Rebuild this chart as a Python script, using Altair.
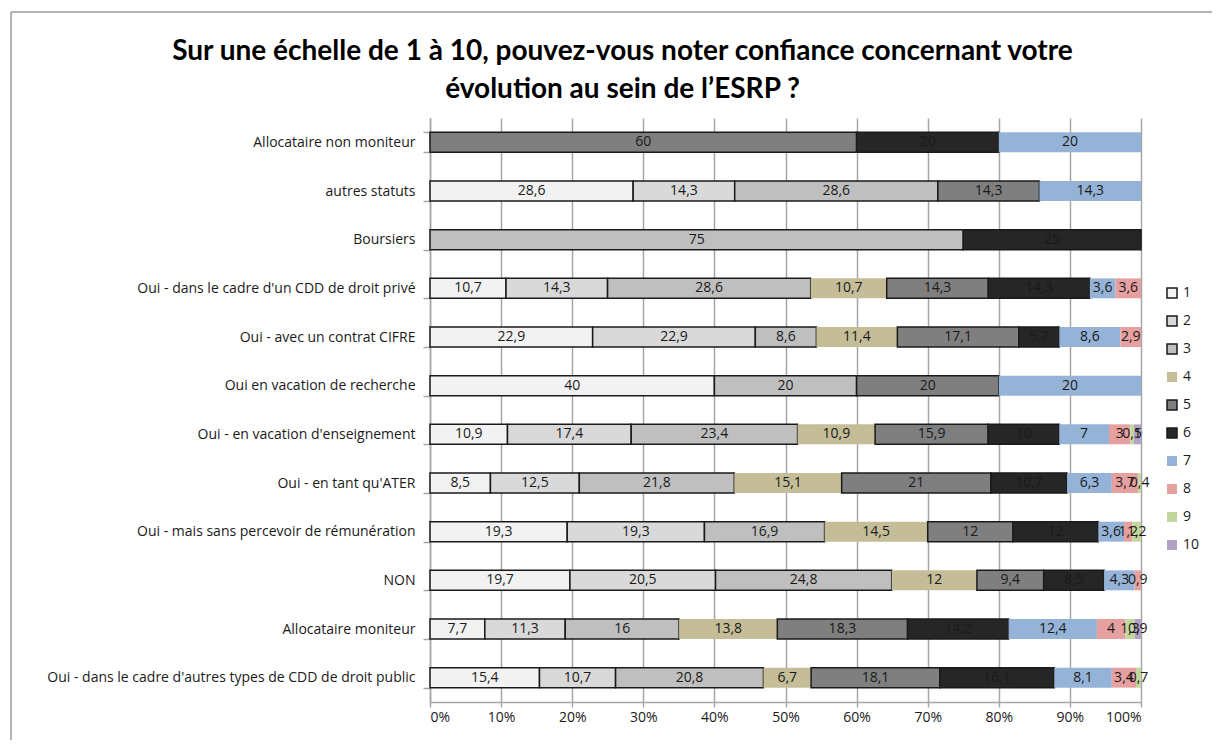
import altair as alt
import pandas as pd

categories = [
    "Allocataire non moniteur",
    "autres statuts",
    "Boursiers",
    "Oui - dans le cadre d'un CDD de droit privé",
    "Oui - avec un contrat CIFRE",
    "Oui en vacation de recherche",
    "Oui - en vacation d'enseignement",
    "Oui - en tant qu'ATER",
    "Oui - mais sans percevoir de rémunération",
    "NON",
    "Allocataire moniteur",
    "Oui - dans le cadre d'autres types de CDD de droit public",
]
levels = ["1", "2", "3", "4", "5", "6", "7", "8", "9", "10"]

L1 = [0, 28.6, 0, 10.7, 22.9, 40, 10.9, 8.5, 19.3, 19.7, 7.7, 15.4]
L2 = [0, 14.3, 0, 14.3, 22.9, 0, 17.4, 12.5, 19.3, 20.5, 11.3, 10.7]
L3 = [0, 28.6, 75, 28.6, 8.6, 20, 23.4, 21.8, 16.9, 24.8, 16, 20.8]
L4 = [0, 0, 0, 10.7, 11.4, 0, 10.9, 15.1, 14.5, 12, 13.8, 6.7]
L5 = [60, 14.3, 0, 14.3, 17.1, 20, 15.9, 21, 12, 9.4, 18.3, 18.1]
L6 = [20, 0, 25, 14.3, 5.7, 0, 10, 10.7, 12, 8.5, 14.2, 16.1]
L7 = [20, 14.3, 0, 3.6, 8.6, 20, 7, 6.3, 3.6, 4.3, 12.4, 8.1]
L8 = [0, 0, 0, 3.6, 2.9, 0, 3, 3.7, 1.2, 0.9, 4, 3.4]
L9 = [0, 0, 0, 0, 0, 0, 0.5, 0.4, 1.2, 0, 1.3, 0.7]
L10 = [0, 0, 0, 0, 0, 0, 1, 0, 0, 0, 0.9, 0]

x_ticks = [0, 0.1, 0.2, 0.3, 0.4, 0.5, 0.6, 0.7, 0.8, 0.9, 1.0]

fills = ["#f2f2f2", "#d9d9d9", "#bfbfbf", "#c4bd97", "#7f7f7f",
         "#262626", "#95b3d7", "#e6a0a0", "#c3d69b", "#b3a2c7"]
strokes = ["#1a1a1a", "#1a1a1a", "#1a1a1a", "transparent", "#1a1a1a",
           "#1a1a1a", "transparent", "transparent", "transparent", "transparent"]

FONT = "Open Sans"
TITLE_FONT = "Lato"


def fmt(v):
    if float(v).is_integer():
        return str(int(v))
    return str(v).replace(".", ",")


rows = []
for lvl, vals in zip(levels, [L1, L2, L3, L4, L5, L6, L7, L8, L9, L10]):
    for c, v in zip(categories, vals):
        if v > 0:
            rows.append({"cat": c, "level": lvl, "order": int(lvl),
                         "value": v, "label": fmt(v)})
df = pd.DataFrame(rows)

base = alt.Chart(df).transform_stack(
    stack="value", groupby=["cat"], as_=["x0", "x1"], offset="normalize",
    sort=[alt.SortField("order", order="ascending")]
).transform_calculate(xm="(datum.x0 + datum.x1) / 2")

yscale = alt.Scale(paddingInner=0.59, paddingOuter=0.295)

bars = base.mark_bar(strokeWidth=1.5).encode(
    x=alt.X("x0:Q", scale=alt.Scale(domain=[0, 1], nice=False),
            axis=alt.Axis(format=".0%", values=x_ticks, title=None,
                          grid=True, gridColor="#a6a6a6", gridWidth=1.5,
                          domainColor="#a6a6a6", domainWidth=1.5,
                          tickColor="#a6a6a6", tickWidth=1.5, tickSize=5,
                          labelFontSize=14, labelFont=FONT, labelColor="#1a1a1a",
                          labelPadding=3)),
    x2="x1:Q",
    y=alt.Y("cat:N", sort=categories, scale=yscale,
            axis=alt.Axis(title=None, tickBand="extent", grid=False,
                          domainColor="#a6a6a6", domainWidth=1.5,
                          tickColor="#a6a6a6", tickWidth=1.5, tickSize=7,
                          labelFontSize=14, labelFont=FONT, labelColor="#1a1a1a",
                          labelPadding=8, labelLimit=420)),
    fill=alt.Fill("level:N", scale=alt.Scale(domain=levels, range=fills),
                  legend=alt.Legend(title=None)),
    stroke=alt.Stroke("level:N", scale=alt.Scale(domain=levels, range=strokes),
                      legend=alt.Legend(title=None)),
)

text = base.mark_text(fontSize=14, font=FONT, color="#1a1a1a").encode(
    x="xm:Q",
    y=alt.Y("cat:N", sort=categories, scale=yscale),
    text="label:N",
)

frame_df = pd.DataFrame({"k": [0]})
frame_left = alt.Chart(frame_df).mark_rule(color="#9a9a9a", strokeWidth=1.5).encode(
    x=alt.value(-419), y=alt.value(-106), y2=alt.value(720))
frame_top = alt.Chart(frame_df).mark_rule(color="#9a9a9a", strokeWidth=1.5).encode(
    x=alt.value(-419), x2=alt.value(800), y=alt.value(-106))

chart = alt.layer(frame_left, frame_top, bars, text).properties(
    width=711, height=584,
    title=alt.TitleParams(
        ["Sur une échelle de 1 à 10, pouvez-vous noter confiance concernant votre",
         "évolution au sein de l’ESRP ?"],
        font=TITLE_FONT, fontSize=28, fontWeight="bold", color="#000000",
        anchor="middle", dx=-163, offset=-93, lineHeight=38),
    autosize=alt.AutoSizeParams(type="none"),
    padding={"left": 422, "top": 110, "right": 71, "bottom": 38},
).configure_view(stroke=None).configure_legend(
    orient="none", legendX=735, legendY=168, labelFontSize=14, labelFont=FONT,
    labelColor="#1a1a1a", symbolType="square", symbolSize=100,
    symbolStrokeWidth=1.5, rowPadding=12, labelOffset=4,
)

chart.save("out.html", embed_options={"renderer": "svg", "actions": False})
